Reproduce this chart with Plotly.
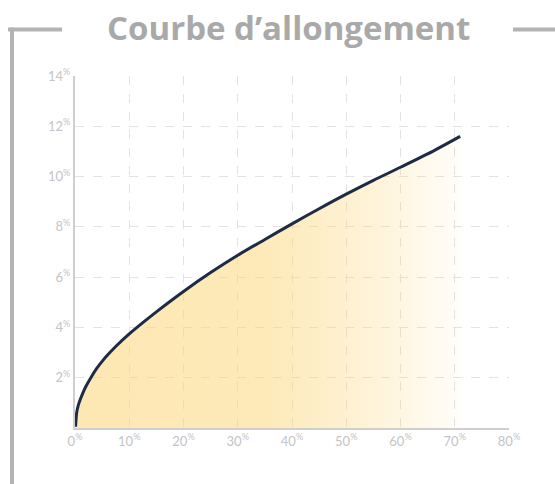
import plotly.graph_objects as go

# Data (elongation curve)
x_vals = [0.1, 0.3, 0.6, 1, 1.5, 2, 3, 4, 5, 6, 7.5, 10, 12.5, 15, 20, 25, 30, 35, 40, 45, 50, 55, 60, 65, 71]
y_vals = [0.05, 0.6, 0.9, 1.15, 1.42, 1.65, 2.03, 2.37, 2.65, 2.9, 3.24, 3.74, 4.19, 4.62, 5.43, 6.18, 6.87, 7.5, 8.12, 8.72, 9.3, 9.85, 10.37, 10.9, 11.6]

x_ticks = [0, 10, 20, 30, 40, 50, 60, 70, 80]
x_ticklabels = ["0<sup>%</sup>", "10<sup>%</sup>", "20<sup>%</sup>", "30<sup>%</sup>", "40<sup>%</sup>",
                "50<sup>%</sup>", "60<sup>%</sup>", "70<sup>%</sup>", "80<sup>%</sup>"]
y_ticks = [2, 4, 6, 8, 10, 12, 14]
y_ticklabels = ["2<sup>%</sup>", "4<sup>%</sup>", "6<sup>%</sup>", "8<sup>%</sup>", "10<sup>%</sup>",
                "12<sup>%</sup>", "14<sup>%</sup>"]

title_text = "Courbe d’allongement"

W, H = 555, 484
L, R, T, B = 75, 46, 76, 56
pw, ph = W - L - R, H - T - B

def px(xp):
    return (xp - L) / pw

def py(yp):
    return (H - B - yp) / ph

fig = go.Figure()
fig.add_trace(go.Scatter(
    x=x_vals, y=y_vals,
    mode="lines",
    line=dict(color="#1d2b44", width=3, shape="spline", smoothing=0.8),
    fill="tozeroy",
    fillgradient=dict(
        type="horizontal",
        colorscale=[[0, "rgba(252,214,120,0.56)"],
                    [0.5, "rgba(252,214,120,0.52)"],
                    [0.8, "rgba(252,214,120,0.26)"],
                    [1, "rgba(252,214,120,0.04)"]],
    ),
    hoverinfo="skip",
    showlegend=False,
))

grid_col = "#e3e3e3"
tick_font = dict(family="Lato, 'Open Sans', sans-serif", size=13, color="#c4c4c4")

fig.update_xaxes(
    range=[0, 80], tickvals=x_ticks, ticktext=x_ticklabels,
    showgrid=True, gridcolor=grid_col, griddash="dash", gridwidth=1,
    showline=True, linecolor="#cfcfcf", linewidth=2,
    zeroline=False, ticks="", tickfont=tick_font, fixedrange=True,
)
fig.update_yaxes(
    range=[0, 14], tickvals=y_ticks, ticktext=y_ticklabels,
    showgrid=True, gridcolor=grid_col, griddash="dash", gridwidth=1,
    showline=True, linecolor="#cfcfcf", linewidth=2,
    zeroline=False, ticks="", tickfont=tick_font, fixedrange=True,
)

frame_col = "#b3b3b3"
shapes = [
    # top-left horizontal bar
    dict(type="line", xref="paper", yref="paper", x0=px(8), x1=px(62), y0=py(29.5), y1=py(29.5),
         line=dict(color=frame_col, width=4)),
    # left vertical bar
    dict(type="line", xref="paper", yref="paper", x0=px(12), x1=px(12), y0=py(27.5), y1=py(490),
         line=dict(color=frame_col, width=4)),
    # top-right horizontal bar
    dict(type="line", xref="paper", yref="paper", x0=px(513), x1=px(560), y0=py(29.5), y1=py(29.5),
         line=dict(color=frame_col, width=4)),
]

fig.update_layout(
    width=W, height=H,
    margin=dict(l=L, r=R, t=T, b=B),
    paper_bgcolor="white", plot_bgcolor="white",
    shapes=shapes,
    annotations=[dict(
        text="<b>" + title_text + "</b>", xref="paper", yref="paper",
        x=px(288), y=py(28), xanchor="center", yanchor="middle", showarrow=False,
        font=dict(family="'Open Sans', sans-serif", size=33, color="#a9a9a9"),
    )],
)

fig.write_html("out.html", post_script="document.body.style.margin='0';",
               config={"displayModeBar": False})
